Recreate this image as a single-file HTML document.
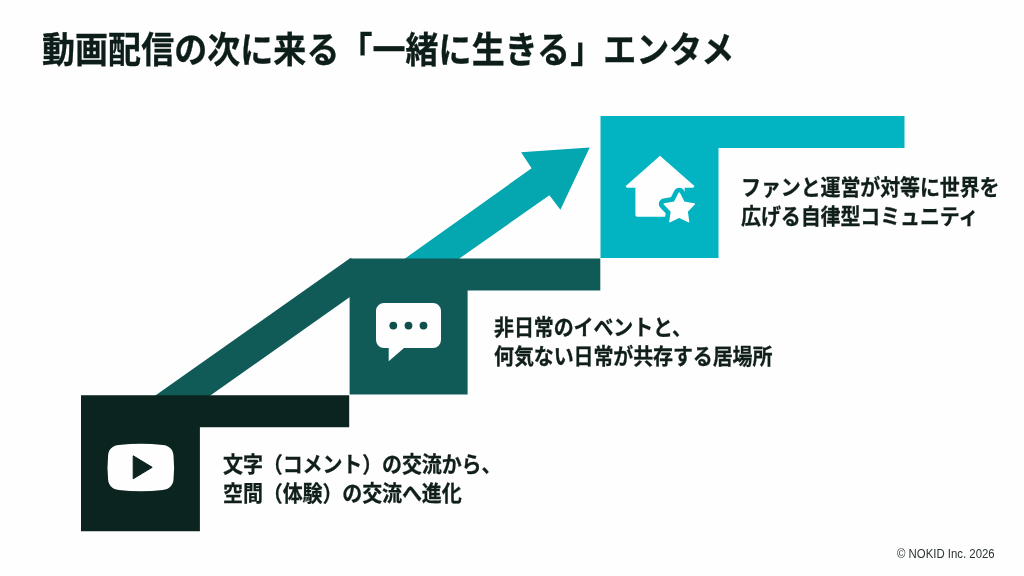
<!DOCTYPE html>
<html lang="ja">
<head>
<meta charset="utf-8">
<title>動画配信の次に来る「一緒に生きる」エンタメ</title>
<style>
html,body{margin:0;padding:0;}
body{width:1024px;height:576px;overflow:hidden;background:#fefefe;position:relative;
 font-family:"Liberation Sans","Noto Sans CJK JP",sans-serif;color:#14231f;}
#stage{position:absolute;left:0;top:0;width:1024px;height:576px;overflow:hidden;}
svg{position:absolute;left:0;top:0;}
.t{position:absolute;white-space:nowrap;margin:0;will-change:transform;}
h1.t{left:41.600px;top:24.700px;font-size:33px;line-height:48px;font-weight:700;letter-spacing:0.050px;-webkit-text-stroke:0.300px #0d1d19;color:#0d1d19;transform:scaleY(1.094);transform-origin:0 0;}
.d{font-size:20px;line-height:26.500px;font-weight:700;letter-spacing:-0.120px;-webkit-text-stroke:0.250px #101f1b;color:#101f1b;transform:scaleY(1.09);transform-origin:0 0;}
#d1{left:223px;top:450.400px;}
#d2{left:494px;top:313.400px;}
#d3{left:741px;top:173.300px;}
#ft{right:29.500px;top:546.500px;font-size:11.400px;line-height:14px;color:#2a3431;font-weight:400;transform:scaleY(1.1);transform-origin:100% 50%;}
</style>
</head>
<body>
<div id="stage">
<svg width="1024" height="576" viewBox="0 0 1024 576">
  <!-- diagonal bands -->
  <polygon points="153.200,397 349.700,258.400 352,258.400 352,297.200 349.500,297.200 208.200,397" fill="#105b57"/>
  <polygon points="401.500,261 531.600,168.300 521.100,152.300 589.700,147.500 560.400,209.800 549.400,195.300 455.800,261" fill="#04a6b0"/>
  <!-- step 3 -->
  <path d="M600.5 116H904.5V148H718.5V258H600.5Z" fill="#02b3c2"/>
  <!-- step 2 -->
  <path d="M349.600 258.600H600.300V290.600H467.600V394.500H349.600Z" fill="#105b57"/>
  <!-- step 1 -->
  <path d="M81 395.300H349.200V427.300H199.900V531.200H81Z" fill="#0b241f"/>
  <!-- play icon -->
  <path d="M118.8 445.1 Q140.8 442.3 162.8 445.1 C169.0 445.6 173.1 449.5 173.5 455.5 Q174.7 467.5 173.5 479.5 C173.1 485.5 169.0 489.4 162.8 489.9 Q140.8 492.7 118.8 489.9 C112.6 489.4 108.5 485.5 108.1 479.5 Q106.9 467.5 108.1 455.5 C108.5 449.5 112.6 445.6 118.8 445.1Z" fill="#fefefe"/>
  <path d="M133.200 455.800 L152.200 467.300 L133.200 478.800Z" fill="#0b241f" stroke="#0b241f" stroke-width="1" stroke-linejoin="round"/>
  <!-- chat icon -->
  <path d="M384 303H433a8 8 0 0 1 8 8V340a8 8 0 0 1 -8 8H404L388.700 361.300V348H384a8 8 0 0 1 -8 -8V311a8 8 0 0 1 8 -8Z" fill="#fefefe"/>
  <circle cx="393.300" cy="325.600" r="3.900" fill="#0f504c"/>
  <circle cx="408.500" cy="325.600" r="3.900" fill="#0f504c"/>
  <circle cx="423.500" cy="325.600" r="3.900" fill="#0f504c"/>
  <!-- house icon -->
  <path d="M660 155.800 L694.400 186 Q694.200 187.700 692.500 187.700 H684.600 V215 Q684.600 216.700 682.900 216.700 H637.100 Q635.400 216.700 635.400 215 V187.700 H627.500 Q625.800 187.700 625.800 186 Z" fill="#fefefe"/>
  <polygon points="679.2,193.2 684.0,202.3 694.2,204.0 687.0,211.4 688.5,221.6 679.2,217.0 670.0,221.6 671.5,211.4 664.3,204.0 674.5,202.3" fill="#02b3c2" stroke="#02b3c2" stroke-width="11" stroke-linejoin="round"/>
  <polygon points="679.2,193.2 684.0,202.3 694.2,204.0 687.0,211.4 688.5,221.6 679.2,217.0 670.0,221.6 671.5,211.4 664.3,204.0 674.5,202.3" fill="#fefefe" stroke="#fefefe" stroke-width="1.600" stroke-linejoin="round"/>
</svg>
<h1 class="t">動画配信の次に来る「一緒に生きる」エンタメ</h1>
<p class="t d" id="d1">文字（コメント）の交流から、<br>空間（体験）の交流へ進化</p>
<p class="t d" id="d2">非日常のイベントと、<br>何気ない日常が共存する居場所</p>
<p class="t d" id="d3">ファンと運営が対等に世界を<br>広げる自律型コミュニティ</p>
<div class="t" id="ft">© NOKID Inc. 2026</div>
</div>
</body>
</html>
